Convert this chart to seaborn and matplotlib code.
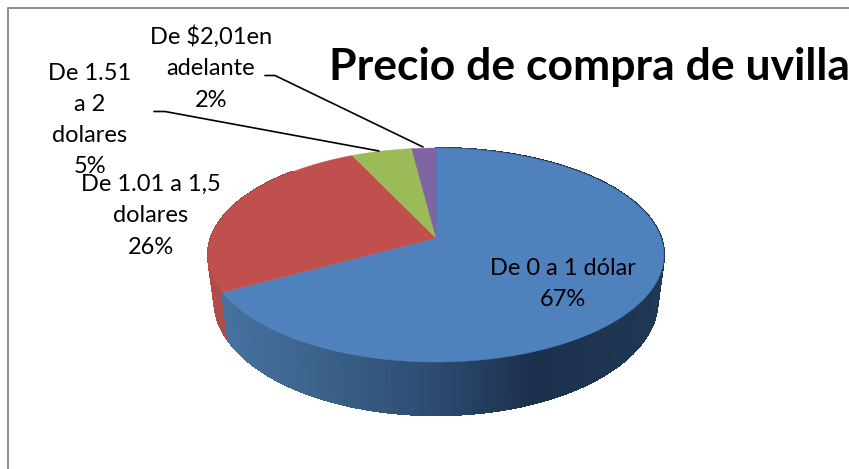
import numpy as np
import matplotlib
matplotlib.use("Agg")
import matplotlib.pyplot as plt
import seaborn as sns

sns.set_style("white")
plt.rcParams["font.family"] = ["Lato", "DejaVu Sans"]

categories = ["De 0 a 1 dólar", "De 1.01 a 1,5\ndolares", "De 1.51\na 2\ndolares", "De $2,01en\nadelante"]
values = [67, 26, 5, 2]
colors = ["#4F81BD", "#C0504D", "#9BBB59", "#8064A2"]
title = "Precio de compra de uvilla"

# where the pie sits on the canvas, in pixels
CX, CY = 436, 238
RX, RY = 225, 104.3
PERSP = 0.159
DEPTH = 44.6
SHRINK = 0.972


def rim(theta, bottom=False):
    u, v = np.sin(theta), np.cos(theta)
    d = 1 + PERSP * v
    if bottom:
        return CX + SHRINK * RX * u / d, CY - RY * v / d + DEPTH / d
    return CX + RX * u / d, CY - RY * v / d


def side_color(x, stops, cols):
    rgb = np.array([matplotlib.colors.to_rgb(c) for c in cols])
    return [float(np.interp(x, stops, rgb[:, i])) for i in range(3)]


fig = plt.figure(figsize=(8.49, 4.69), dpi=100)
ax = fig.add_axes([0, 0, 1, 1])
ax.set_xlim(0, 849)
ax.set_ylim(469, 0)
ax.axis("off")

# chart frame, open at the bottom of the crop
ax.plot([849, 8.5, 8.5], [8.5, 8.5, 469], color="#8C8C8C", lw=1.4)

fracs = np.cumsum([0] + values) / sum(values) * 2 * np.pi
blue_end, red_end = fracs[1], fracs[2]

# side wall, made of thin strips for the shading
blue_stops = [220, 330, 440, 530, 660]
blue_cols = ["#46729F", "#3A6088", "#2C4A6E", "#1C304E", "#203853"]
red_stops = [205, 230]
red_cols = ["#B04E4B", "#A94846"]
for start, stop, stops, cols in [(blue_end, red_end, red_stops, red_cols),
                                 (0, blue_end, blue_stops, blue_cols)]:
    th = np.linspace(start, stop, 180)
    if start > 0:
        th = th[th < np.pi * 1.75]
    for a, b in zip(th[:-1], th[1:]):
        x1, y1 = rim(a)
        x2, y2 = rim(b)
        x3, y3 = rim(b, True)
        x4, y4 = rim(a, True)
        c = side_color((x1 + x2) / 2, stops, cols)
        ax.fill([x1, x2, x3, x4], [y1, y2, y3, y4], color=c, lw=1, antialiased=False, zorder=2)

# top face
for i, col in enumerate(colors):
    th = np.linspace(fracs[i], fracs[i + 1], 200)
    x, y = rim(th)
    ax.fill(np.r_[CX, x], np.r_[CY, y], color=col, lw=0.3, zorder=3)

# leader lines
ax.plot([265, 275, 423], [75.5, 75.5, 147], color="black", lw=1.2, zorder=4)
ax.plot([154, 165, 379], [111.5, 111.5, 151], color="black", lw=1.2, zorder=4)

# data labels
label_pos = [(563, 284), (151, 216), (90, 120), (211, 68)]
for cat, val, (lx, ly) in zip(categories, values, label_pos):
    ax.text(lx, ly, f"{cat}\n{val}%", ha="center", va="center", fontsize=17,
            linespacing=1.6, color="black", zorder=5)

ax.text(329, 80, title, ha="left", va="baseline", fontsize=32, fontweight="bold",
        color="black", zorder=5)

fig.savefig("out.png", dpi=100)
